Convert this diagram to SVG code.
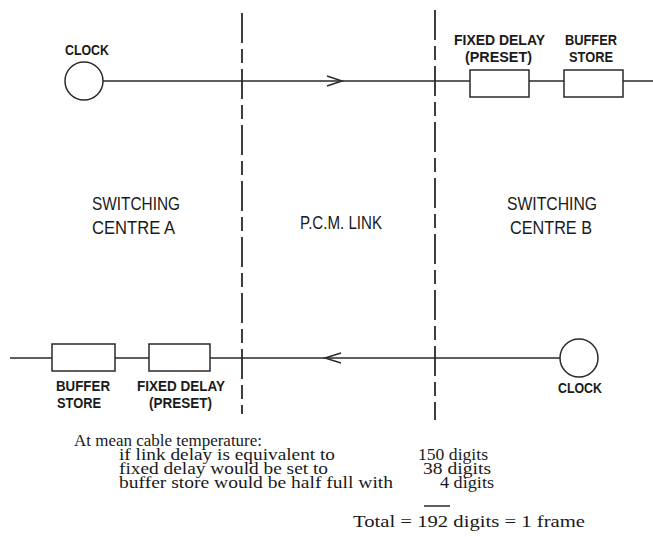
<svg xmlns="http://www.w3.org/2000/svg" width="653" height="537" viewBox="0 0 653 537">
<style>
.ln{stroke:#2a2a2a;stroke-width:1.5;fill:none}
.bx{stroke:#2a2a2a;stroke-width:1.5;fill:#fff}
.dash{stroke:#2a2a2a;stroke-width:1.8;fill:none;stroke-dasharray:30 6 14 6}
.lb{font-family:"Liberation Sans",Arial,sans-serif;font-size:15px;font-weight:bold;fill:#1a1a1a}
.ct{font-family:"Liberation Sans",Arial,sans-serif;font-size:18px;fill:#1a1a1a}
.tx{font-family:"Liberation Serif","Times New Roman",serif;font-size:16px;fill:#1a1a1a}
</style>
<rect width="653" height="537" fill="#fff"/>
<g id="boundaries">
<line class="dash" x1="242" y1="13" x2="242" y2="414"/>
<line class="dash" x1="435" y1="10" x2="435" y2="420"/>
</g>
<g id="connectors">
<line class="ln" x1="103" y1="81" x2="653" y2="81"/>
<polyline class="ln" points="327,76 342,81 327,86"/>
<line class="ln" x1="10" y1="358" x2="560" y2="358"/>
<polyline class="ln" points="341,353 325,358 341,363"/>
</g>
<g id="clockA">
<circle class="bx" cx="84" cy="81" r="19"/>
<text class="lb" x="65" y="55" textLength="44" lengthAdjust="spacingAndGlyphs">CLOCK</text>
</g>
<g id="fixedDelayB">
<rect class="bx" x="470" y="70" width="59" height="27"/>
<text class="lb" x="454" y="45" textLength="91" lengthAdjust="spacingAndGlyphs">FIXED DELAY</text>
<text class="lb" x="465" y="62" textLength="67" lengthAdjust="spacingAndGlyphs">(PRESET)</text>
</g>
<g id="bufferB">
<rect class="bx" x="564" y="70" width="59" height="27"/>
<text class="lb" x="565" y="45" textLength="52" lengthAdjust="spacingAndGlyphs">BUFFER</text>
<text class="lb" x="569" y="62" textLength="44" lengthAdjust="spacingAndGlyphs">STORE</text>
</g>
<g id="centreA">
<text class="ct" x="92" y="210" textLength="88" lengthAdjust="spacingAndGlyphs">SWITCHING</text>
<text class="ct" x="92" y="234" textLength="83" lengthAdjust="spacingAndGlyphs">CENTRE  A</text>
</g>
<g id="pcmLink">
<text class="ct" x="300" y="229" font-size="15" textLength="82" lengthAdjust="spacingAndGlyphs">P.C.M. LINK</text>
</g>
<g id="centreB">
<text class="ct" x="507" y="210" textLength="90" lengthAdjust="spacingAndGlyphs">SWITCHING</text>
<text class="ct" x="510" y="234" textLength="82" lengthAdjust="spacingAndGlyphs">CENTRE  B</text>
</g>
<g id="bufferA">
<rect class="bx" x="52" y="344" width="63" height="27"/>
<text class="lb" x="56" y="391" textLength="54" lengthAdjust="spacingAndGlyphs">BUFFER</text>
<text class="lb" x="57" y="408" textLength="44" lengthAdjust="spacingAndGlyphs">STORE</text>
</g>
<g id="fixedDelayA">
<rect class="bx" x="149" y="344" width="61" height="27"/>
<text class="lb" x="137" y="391" textLength="88" lengthAdjust="spacingAndGlyphs">FIXED DELAY</text>
<text class="lb" x="149" y="408" textLength="63" lengthAdjust="spacingAndGlyphs">(PRESET)</text>
</g>
<g id="clockB">
<circle class="bx" cx="579" cy="358" r="19"/>
<text class="lb" x="558" y="393" textLength="44" lengthAdjust="spacingAndGlyphs">CLOCK</text>
</g>
<g id="notes">
<text class="tx" x="74" y="446" textLength="188" lengthAdjust="spacingAndGlyphs">At mean cable temperature:</text>
<text class="tx" x="119" y="460" textLength="216" lengthAdjust="spacingAndGlyphs">if link delay is equivalent to</text>
<text class="tx" x="119" y="474" textLength="209" lengthAdjust="spacingAndGlyphs">fixed delay would be set to</text>
<text class="tx" x="119" y="488" textLength="274" lengthAdjust="spacingAndGlyphs">buffer store would be half full with</text>
<text class="tx" x="418" y="460" textLength="70" lengthAdjust="spacingAndGlyphs">150 digits</text>
<text class="tx" x="423" y="474" textLength="68" lengthAdjust="spacingAndGlyphs">38 digits</text>
<text class="tx" x="440" y="488" textLength="54" lengthAdjust="spacingAndGlyphs">4 digits</text>
<line class="ln" x1="424" y1="506" x2="450" y2="506" stroke-width="1"/>
<text class="tx" x="353" y="527" textLength="232" lengthAdjust="spacingAndGlyphs">Total = 192 digits = 1 frame</text>
</g>
</svg>
